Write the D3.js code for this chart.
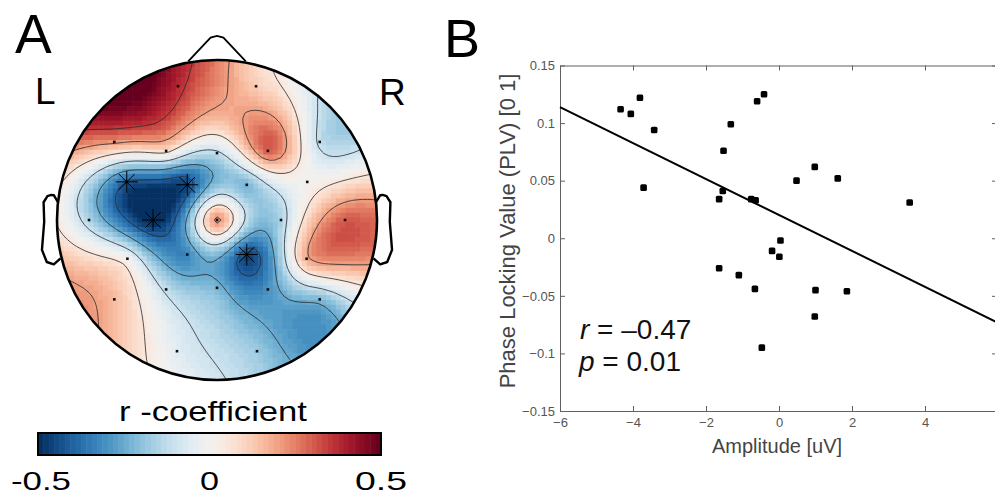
<!DOCTYPE html>
<html>
<head>
<meta charset="utf-8">
<script src="https://cdn.jsdelivr.net/npm/d3@7"></script>
<style>
  html, body { margin: 0; padding: 0; background: #fff; }
  svg { display: block; font-family: "Liberation Sans", Arial, sans-serif; }
</style>
</head>
<body>
<svg id="fig" width="995" height="497"></svg>
<script>
// ---- Panel A data: electrode positions (head radius = 0.5) and r values
const chanLabels = ["Fp1","Fp2","F7","F3","Fz","F4","F8","FC5","FC1","FC2","FC6","T7","C3","Cz","C4","T8",
                    "CP5","CP1","CP2","CP6","P7","P3","Pz","P4","P8","O1","O2"];
const chanX = [-0.122, 0.122, -0.321, -0.159, 0, 0.159, 0.321, -0.282, -0.093, 0.093, 0.282, -0.400, -0.200, 0, 0.200, 0.400,
               -0.280, -0.093, 0.093, 0.280, -0.321, -0.159, 0, 0.159, 0.321, -0.125, 0.125];
const chanY = [0.418, 0.418, 0.244, 0.216, 0.209, 0.216, 0.244, 0.119, 0.110, 0.110, 0.119, 0, 0, 0, 0, 0,
               -0.121, -0.108, -0.108, -0.121, -0.248, -0.217, -0.212, -0.217, -0.248, -0.410, -0.410];
const rValues = [0.38, 0.12, 0.22, 0.08, -0.12, 0.30, -0.12, -0.40, -0.45, -0.22, 0.00, -0.15, -0.52, 0.22, -0.15, 0.30,
                 0.00, -0.32, -0.45, 0.18, 0.15, -0.12, -0.22, -0.30, -0.22, -0.05, -0.18];
const sigChans = ["FC5", "FC1", "C3", "CP2"];
const contourLevels = [-0.4, -0.25, -0.1, 0.05, 0.2, 0.35];
const colorTicks = [-0.5, 0, 0.5];

// ---- Panel B data
const amplitude = [-4.34, -4.06, -3.81, -3.42, -3.71, -1.52, -1.32, -0.60, -0.41, -1.64, -1.54, -0.76, -0.64, 0.48,
                   0.98, 1.61, 3.58, 0.04, -0.19, 0.01, -1.64, -1.10, -0.66, 1.00, 1.86, 0.98, -0.47];
const plv = [0.112, 0.108, 0.122, 0.094, 0.044, 0.076, 0.099, 0.119, 0.125, 0.034, 0.041, 0.034, 0.033, 0.050,
             0.062, 0.052, 0.031, -0.002, -0.011, -0.016, -0.026, -0.032, -0.044, -0.045, -0.046, -0.068, -0.095];
const fitX = [-6, 6];
const fitY = [0.1139, -0.0734];
const xTicks = [-6, -4, -2, 0, 2, 4, 6];
const yTicks = [-0.15, -0.1, -0.05, 0, 0.05, 0.1, 0.15];

const svg = d3.select("#fig");

/// Panel A: topoplot

// biharmonic spline (like griddata 'v4')
function green(d) { return d > 0 ? d * d * (Math.log(d) - 1) : 0; }

function solve(A, b) {
  const n = b.length;
  const M = A.map((row, i) => row.concat([b[i]]));
  for (let c = 0; c < n; c++) {
    let p = c;
    for (let r = c + 1; r < n; r++) if (Math.abs(M[r][c]) > Math.abs(M[p][c])) p = r;
    [M[c], M[p]] = [M[p], M[c]];
    for (let r = c + 1; r < n; r++) {
      const f = M[r][c] / M[c][c];
      for (let k = c; k <= n; k++) M[r][k] -= f * M[c][k];
    }
  }
  const x = new Array(n).fill(0);
  for (let r = n - 1; r >= 0; r--) {
    let s = M[r][n];
    for (let k = r + 1; k < n; k++) s -= M[r][k] * x[k];
    x[r] = s / M[r][r];
  }
  return x;
}

const G = chanX.map((x, i) => chanX.map((x2, j) => green(Math.hypot(x - x2, chanY[i] - chanY[j]))));
const weights = solve(G, rValues.slice());

function field(x, y) {
  let s = 0;
  for (let j = 0; j < chanX.length; j++) s += weights[j] * green(Math.hypot(x - chanX[j], y - chanY[j]));
  return s;
}

const cx = 217, cy = 220, headR = 160;
const hx = d3.scaleLinear().domain([-0.5, 0.5]).range([cx - headR, cx + headR]);
const hy = d3.scaleLinear().domain([-0.5, 0.5]).range([cy + headR, cy - headR]);

const colorScale = d3.scaleQuantize()
  .domain([-0.5, 0.5])
  .range(d3.quantize(t => d3.interpolateRdBu(1 - t), 64));

// grid, 67 points across the head plus one extra on each side
const step = 1 / 66;
const N = 69;
const gridVals = new Array(N * N);
const cells = [];
for (let j = 0; j < N; j++) {
  for (let i = 0; i < N; i++) {
    const u = -0.5 + (i - 1) * step;
    const v = 0.5 - (j - 1) * step;
    const val = field(u, v);
    gridVals[j * N + i] = val;
    cells.push({ u: u, v: v, val: val });
  }
}

svg.append("clipPath").attr("id", "headClip")
  .append("circle").attr("cx", cx).attr("cy", cy).attr("r", headR);

const topo = svg.append("g").attr("clip-path", "url(#headClip)");
const cellW = hx(step) - hx(0);

topo.selectAll("rect")
  .data(cells)
  .enter()
  .append("rect")
  .attr("x", d => hx(d.u) - cellW / 2)
  .attr("y", d => hy(d.v) - cellW / 2)
  .attr("width", cellW + 0.6)
  .attr("height", cellW + 0.6)
  .attr("fill", d => colorScale(d.val));

// contour lines
const contours = d3.contours().size([N, N]).thresholds(contourLevels)(gridVals);
const gridPath = d3.geoPath(d3.geoTransform({
  point: function(x, y) {
    this.stream.point(hx(-0.5 + (x - 1.5) * step), hy(0.5 - (y - 1.5) * step));
  }
}));
topo.selectAll("path.contour")
  .data(contours)
  .enter()
  .append("path")
  .attr("class", "contour")
  .attr("d", gridPath)
  .attr("fill", "none")
  .attr("stroke", "#2b2b2b")
  .attr("stroke-width", 0.8);

// electrodes
svg.append("g").selectAll("rect")
  .data(chanLabels)
  .enter()
  .append("rect")
  .attr("x", (d, i) => hx(chanX[i]) - 1.3)
  .attr("y", (d, i) => hy(chanY[i]) - 1.3)
  .attr("width", 2.6)
  .attr("height", 2.6)
  .attr("fill", "#111");

// significant electrodes: asterisks
const starR = 11;
const starPath = [0, 45, 90, 135].map(a => {
  const dx = starR * Math.cos(a * Math.PI / 180), dy = starR * Math.sin(a * Math.PI / 180);
  return "M" + (-dx) + "," + (-dy) + "L" + dx + "," + dy;
}).join("");
svg.append("g").selectAll("path")
  .data(sigChans)
  .enter()
  .append("path")
  .attr("transform", d => {
    const i = chanLabels.indexOf(d);
    return "translate(" + hx(chanX[i]) + "," + hy(chanY[i]) + ")";
  })
  .attr("d", starPath)
  .attr("stroke", "#000")
  .attr("stroke-width", 1);

// head, nose, ears
const headLine = d3.line().x(d => hx(d[0])).y(d => hy(d[1]));
const noseX = [0.09, 0.02, 0, -0.02, -0.09];
const noseY = [0.4954, 0.57, 0.575, 0.57, 0.4954];
const earX = [0.497, 0.510, 0.518, 0.5299, 0.5419, 0.54, 0.547, 0.532, 0.510, 0.489];
const earY = [0.0555, 0.0775, 0.0783, 0.0746, 0.0555, -0.0055, -0.0932, -0.1313, -0.1384, -0.1199];

svg.append("circle").attr("cx", cx).attr("cy", cy).attr("r", headR)
  .attr("fill", "none").attr("stroke", "#000").attr("stroke-width", 2.6);
svg.append("path").attr("d", headLine(noseX.map((x, i) => [x, noseY[i]])))
  .attr("fill", "none").attr("stroke", "#000").attr("stroke-width", 1.8);
[1, -1].forEach(side => {
  svg.append("path").attr("d", headLine(earX.map((x, i) => [side * x, earY[i]])))
    .attr("fill", "none").attr("stroke", "#000").attr("stroke-width", 2.4)
    .attr("stroke-linejoin", "round");
});

svg.append("text").attr("x", 15).attr("y", 53).attr("font-size", 55).text("A");
svg.append("text").attr("x", 35).attr("y", 104).attr("font-size", 37).text("L");
svg.append("text").attr("x", 379).attr("y", 105).attr("font-size", 37).text("R");

// colorbar
const cbx = d3.scaleLinear().domain([-0.5, 0.5]).range([38, 381]);
const cbTop = 433, cbH = 22;
const cbSteps = d3.range(64).map(k => -0.5 + (k + 0.5) / 64);
svg.append("g").selectAll("rect")
  .data(cbSteps)
  .enter()
  .append("rect")
  .attr("x", d => cbx(d - 0.5 / 64))
  .attr("y", cbTop)
  .attr("width", (cbx(1) - cbx(0)) / 64 + 0.5)
  .attr("height", cbH)
  .attr("fill", d => colorScale(d));
svg.append("rect").attr("x", cbx(-0.5)).attr("y", cbTop).attr("width", cbx(0.5) - cbx(-0.5)).attr("height", cbH)
  .attr("fill", "none").attr("stroke", "#000").attr("stroke-width", 2);
const cbLabelW = [60, 19, 52];
svg.append("g").selectAll("text")
  .data(colorTicks)
  .enter()
  .append("text")
  .attr("x", d => cbx(d) + (d < 0 ? 3 : 0))
  .attr("y", 490)
  .attr("text-anchor", "middle")
  .attr("font-size", 25)
  .attr("textLength", (d, i) => cbLabelW[i])
  .attr("lengthAdjust", "spacingAndGlyphs")
  .text(d => d);
svg.append("text").attr("x", 213).attr("y", 421).attr("text-anchor", "middle")
  .attr("font-size", 28).attr("textLength", 188).attr("lengthAdjust", "spacingAndGlyphs")
  .text("r -coefficient");

/// Panel B: scatter

const xScale = d3.scaleLinear().domain([-6, 6]).range([560, 998]);
const yScale = d3.scaleLinear().domain([-0.15, 0.15]).range([411, 65.5]);
const axisColor = "#606060";

function styleAxis(g) {
  g.selectAll("path, line").attr("stroke", axisColor);
  g.selectAll("text").attr("fill", "#555").attr("font-size", 13).attr("font-family", null);
}

svg.append("g").attr("transform", "translate(0,411)")
  .call(d3.axisBottom(xScale).tickValues(xTicks).tickSize(-5).tickSizeOuter(0).tickPadding(7).tickFormat(d3.format("")))
  .call(styleAxis);
svg.append("g").attr("transform", "translate(560,0)")
  .call(d3.axisLeft(yScale).tickValues(yTicks).tickSize(-5).tickSizeOuter(0).tickPadding(5).tickFormat(d => d3.format("")(+d.toFixed(2))))
  .call(styleAxis);
svg.append("g").attr("transform", "translate(0,65.5)")
  .call(d3.axisTop(xScale).tickValues(xTicks).tickSize(-5).tickSizeOuter(0).tickFormat(""))
  .call(styleAxis);
svg.append("g").attr("transform", "translate(997,0)")
  .call(d3.axisRight(yScale).tickValues(yTicks).tickSize(-5).tickSizeOuter(0).tickFormat(""))
  .call(styleAxis);

svg.selectAll(".domain").attr("fill", "none");

// regression line
svg.append("path")
  .attr("d", d3.line().x(d => xScale(d)).y((d, i) => yScale(fitY[i]))(fitX))
  .attr("stroke", "#000").attr("stroke-width", 2).attr("fill", "none");

// points
svg.append("g").selectAll("rect")
  .data(amplitude)
  .enter()
  .append("rect")
  .attr("x", (d, i) => xScale(d) - 3.3)
  .attr("y", (d, i) => yScale(plv[i]) - 3.3)
  .attr("width", 6.6)
  .attr("height", 6.6)
  .attr("rx", 1.5)
  .attr("fill", "#000");

// labels
svg.append("text").attr("x", 777).attr("y", 453).attr("text-anchor", "middle")
  .attr("font-size", 20).attr("fill", "#444").text("Amplitude [uV]");
svg.append("text").attr("transform", "translate(515,231) rotate(-90)").attr("text-anchor", "middle")
  .attr("font-size", 22).attr("fill", "#444").text("Phase Locking Value (PLV) [0 1]");

const stat1 = svg.append("text").attr("x", 580).attr("y", 339).attr("font-size", 28).attr("fill", "#111");
stat1.append("tspan").attr("font-style", "italic").text("r");
stat1.append("tspan").text(" = –0.47");
const stat2 = svg.append("text").attr("x", 579).attr("y", 371).attr("font-size", 28).attr("fill", "#111");
stat2.append("tspan").attr("font-style", "italic").text("p");
stat2.append("tspan").text(" = 0.01");

svg.append("text").attr("x", 444).attr("y", 57).attr("font-size", 54).text("B");
</script>
</body>
</html>
